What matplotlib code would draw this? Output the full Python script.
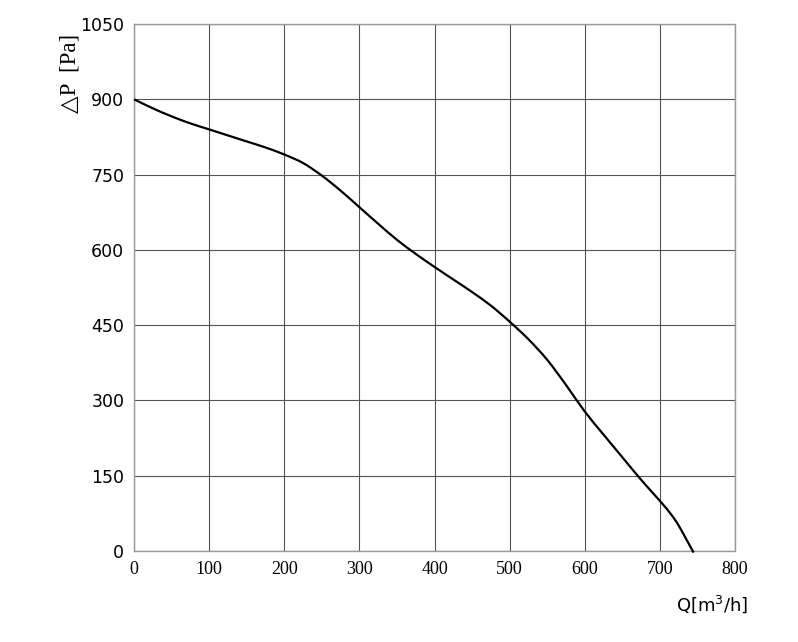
import matplotlib
matplotlib.use("Agg")
import matplotlib.pyplot as plt
from matplotlib.path import Path
from matplotlib.patches import PathPatch

q = [0, 25, 50, 75, 100, 125, 150, 175, 200, 225, 250, 275, 300, 325, 350, 375,
     400, 425, 450, 475, 500, 525, 550, 575, 600, 625, 650, 675, 700, 715, 725,
     735, 742, 745]
dp = [900, 882, 866, 852, 840, 828, 816, 804, 790, 773, 748, 718, 685, 652, 620,
      592, 566, 541, 516, 489, 457, 422, 381, 331, 278, 232, 187, 142, 100, 73,
      51, 24, 5, -3]
xticks = [0, 100, 200, 300, 400, 500, 600, 700, 800]
yticks = [0, 150, 300, 450, 600, 750, 900, 1050]

fig = plt.figure(figsize=(7.98, 6.42), dpi=100)
ax = fig.add_axes([0.168, 0.1417, 0.753, 0.8209])

# smooth curve through the read points (Catmull-Rom as cubic Bezier segments)
verts = [(q[0], dp[0])]
codes = [Path.MOVETO]
n = len(q)
for i in range(n - 1):
    p0 = (q[max(i - 1, 0)], dp[max(i - 1, 0)])
    p1 = (q[i], dp[i])
    p2 = (q[i + 1], dp[i + 1])
    p3 = (q[min(i + 2, n - 1)], dp[min(i + 2, n - 1)])
    c1 = (p1[0] + (p2[0] - p0[0]) / 6, p1[1] + (p2[1] - p0[1]) / 6)
    c2 = (p2[0] - (p3[0] - p1[0]) / 6, p2[1] - (p3[1] - p1[1]) / 6)
    verts += [c1, c2, p2]
    codes += [Path.CURVE4] * 3
patch = PathPatch(Path(verts, codes), facecolor="none", edgecolor="black",
                  lw=1.6, clip_on=False, zorder=3, transform=ax.transData)
ax.add_patch(patch)

ax.set_xlim(0, 800)
ax.set_ylim(0, 1050)
ax.set_xticks(xticks)
ax.set_yticks(yticks)
ax.set_xticklabels([str(v) for v in xticks], family=["Liberation Serif"], fontsize=13)
ax.set_yticklabels([str(v) for v in yticks], family=["DejaVu Sans"], fontsize=12.5)
ax.tick_params(length=0, pad=7)
ax.grid(True, color="#555555", lw=0.8)
for s in ax.spines.values():
    s.set_color("#999999")
    s.set_linewidth(1.0)
ax.set_axisbelow(True)
fig.text(0.088, 0.885, "△P  [Pa]", rotation=90, ha="center", va="center",
         family=["Liberation Serif", "DejaVu Sans"], fontsize=16.5)
fig.text(0.893, 0.059, "Q[m$^3$/h]", ha="center", va="center",
         family=["DejaVu Sans"], fontsize=13)
fig.savefig("out.png", dpi=100)
